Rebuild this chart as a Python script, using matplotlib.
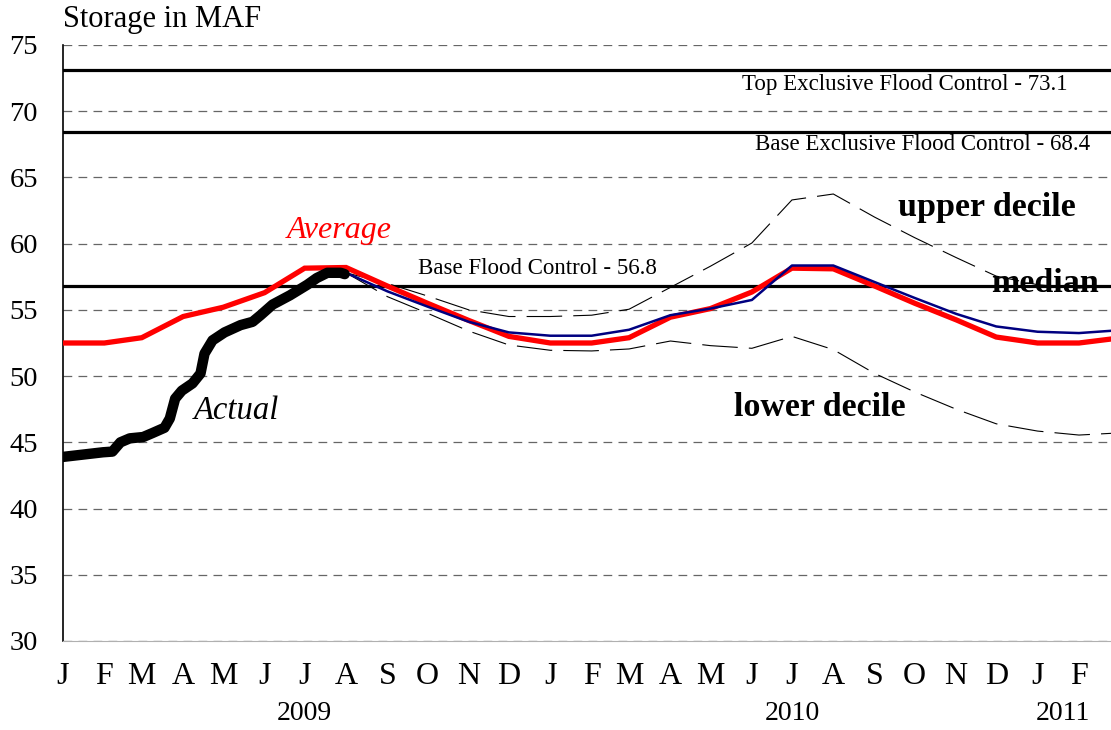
import matplotlib
matplotlib.use("Agg")
import matplotlib.pyplot as plt
import matplotlib.dates as mdates
import matplotlib.transforms as mtransforms
import pandas as pd
import numpy as np

# ---------------- data ----------------
avg_months = pd.date_range("2009-01-01", "2011-03-01", freq="MS")
avg_values = [52.5, 52.5, 52.9, 54.5, 55.2, 56.3, 58.15, 58.2, 56.8, 55.5, 54.2, 53.0,
              52.5, 52.5, 52.9, 54.45, 55.1, 56.35, 58.15, 58.1, 56.8, 55.5, 54.25, 52.95,
              52.5, 52.5, 52.85]

fc_months = pd.date_range("2009-08-01", "2011-03-01", freq="MS")
median_values = [57.8, 56.4, 55.25, 54.1, 53.3, 53.05, 53.05, 53.5, 54.6, 55.1, 55.75, 58.35,
                 58.35, 57.1, 55.9, 54.7, 53.75, 53.35, 53.25, 53.45]
upper_values = [57.8, 57.0, 56.05, 55.0, 54.5, 54.5, 54.6, 55.05, 56.7, 58.3, 60.05, 63.3,
                63.75, 62.0, 60.45, 58.95, 57.55, 56.9, 56.65, 56.8]
lower_values = [57.8, 56.0, 54.75, 53.4, 52.35, 51.95, 51.9, 52.05, 52.65, 52.3, 52.1, 53.0,
                52.0, 50.2, 48.8, 47.5, 46.4, 45.85, 45.55, 45.7]

actual_dates = ["2009-01-01", "2009-01-31", "2009-02-07", "2009-02-13", "2009-02-20",
                "2009-03-02", "2009-03-09", "2009-03-18", "2009-03-22", "2009-03-26",
                "2009-03-31", "2009-04-08", "2009-04-14", "2009-04-17", "2009-04-23",
                "2009-05-02", "2009-05-14", "2009-05-23", "2009-05-29", "2009-06-07",
                "2009-06-20", "2009-07-03", "2009-07-10", "2009-07-18", "2009-07-28",
                "2009-07-31"]
actual_values = [43.9, 44.25, 44.3, 45.0, 45.3, 45.4, 45.7, 46.1, 46.8, 48.3,
                 48.9, 49.45, 50.2, 51.7, 52.7, 53.3, 53.85, 54.1, 54.6, 55.4,
                 56.1, 56.9, 57.4, 57.8, 57.8, 57.7]

flood_levels = [73.1, 68.4, 56.8]
flood_labels = ["Top Exclusive Flood Control - 73.1",
                "Base Exclusive Flood Control - 68.4",
                "Base Flood Control - 56.8"]

tick_months = pd.date_range("2009-01-01", "2011-02-01", freq="MS")
month_letters = ["J", "F", "M", "A", "M", "J", "J", "A", "S", "O", "N", "D"]
tick_labels = [month_letters[d.month - 1] for d in tick_months]
year_labels = ["2009", "2010", "2011"]
year_pos = ["2009-07-01", "2010-07-01", "2011-01-20"]

yticks = list(range(30, 80, 5))

# ---------------- plot ----------------
SERIF = ["Liberation Serif", "DejaVu Serif"]
plt.rcParams["font.family"] = SERIF

fig = plt.figure(figsize=(11.11, 7.30), dpi=100)
ax = fig.add_axes([63 / 1111, 1 - 641 / 730, 1 - 63 / 1111, (641 - 45) / 730])

ax.set_xlim(pd.Timestamp("2009-01-01"), pd.Timestamp("2011-02-25"))
ax.set_ylim(30, 75)

# gridlines
for y in yticks:
    ax.axhline(y, color="#666666", lw=0.9, dashes=(7, 5), zorder=1)

# flood control lines
for lev in flood_levels:
    ax.axhline(lev, color="black", lw=2.3, zorder=2)

# deciles
for vals in (upper_values, lower_values):
    ln, = ax.plot(fc_months, vals, color="black", lw=0.8, zorder=3)
    ln.set_dashes((32, 10))

# average
ax.plot(avg_months, avg_values, color="#ff0000", lw=3.8, zorder=4,
        solid_joinstyle="miter")
# median
ax.plot(fc_months, median_values, color="#000080", lw=1.8, zorder=5)
# actual
ax.plot(pd.to_datetime(actual_dates), actual_values, color="black", lw=7.5,
        zorder=6, solid_capstyle="round", solid_joinstyle="round")

# axes styling
for s in ("top", "right"):
    ax.spines[s].set_visible(False)
ax.spines["bottom"].set_color("#b0b0b0")
ax.spines["bottom"].set_linewidth(0.8)
ax.spines["left"].set_color("black")
ax.spines["left"].set_linewidth(1.2)

ax.set_yticks(yticks)
ax.set_yticklabels([str(v) for v in yticks], fontsize=20.5)
ax.tick_params(axis="y", length=0, pad=18)

ax.set_xticks(tick_months)
ax.set_xticklabels(tick_labels, fontsize=23)
ax.tick_params(axis="x", length=0, pad=15)

trans = mtransforms.blended_transform_factory(ax.transData, fig.transFigure)
for lab, pos in zip(year_labels, year_pos):
    ax.text(pd.Timestamp(pos), 1 - 714 / 730, lab, transform=trans,
            ha="center", va="center", fontsize=20)

fig.text(63 / 1111, 1 - 20 / 730, "Storage in MAF", ha="left", va="center",
         fontsize=22)

# flood labels
fl_pos = [(0.803, 72.0), (0.8206, 67.45), (0.453, 58.15)]
tr2 = mtransforms.blended_transform_factory(ax.transAxes, ax.transData)
for lab, (x, y) in zip(flood_labels, fl_pos):
    ax.text(x, y, lab, transform=tr2, ha="center", va="center", fontsize=16.5)

# series labels
ax.text(0.264, 61.0, "Average", transform=tr2, ha="center", va="center",
        fontsize=23, style="italic", color="#ff0000")
ax.text(0.166, 47.4, "Actual", transform=tr2, ha="center", va="center",
        fontsize=23.5, style="italic", color="black")
ax.text(0.8817, 62.7, "upper decile", transform=tr2, ha="center", va="center",
        fontsize=24.5, fontweight="bold")
ax.text(0.937, 57.0, "median", transform=tr2, ha="center", va="center",
        fontsize=24.5, fontweight="bold")
ax.text(0.7223, 47.6, "lower decile", transform=tr2, ha="center", va="center",
        fontsize=24.5, fontweight="bold")

fig.savefig("out.png", dpi=100)
